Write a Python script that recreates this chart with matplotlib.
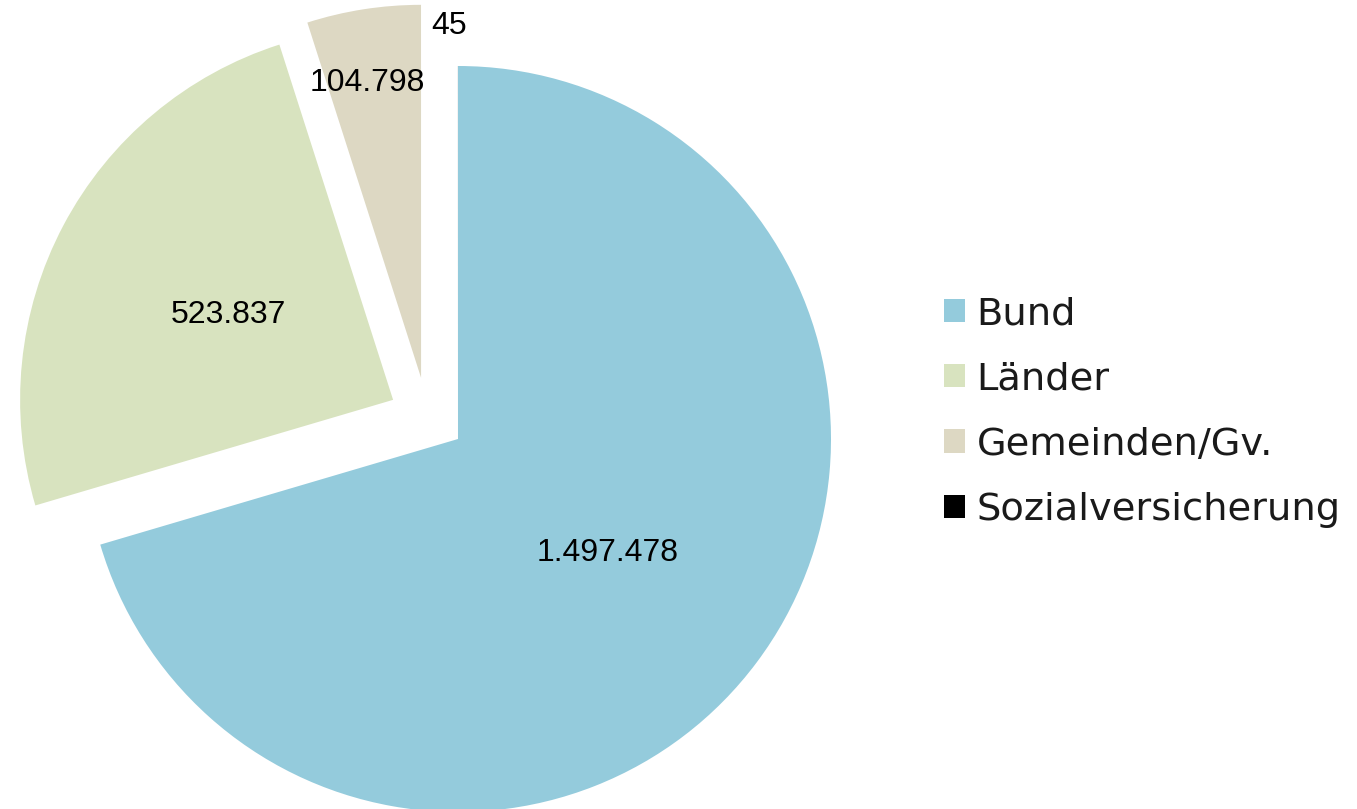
import matplotlib.pyplot as plt
import numpy as np

labels = ['Bund', 'Länder', 'Gemeinden/Gv.', 'Sozialversicherung']
values = [1497478, 523837, 104798, 45]
colors = ['#94cbdc', '#d8e3bf', '#ddd8c3', '#000000']
# wedge offsets (radius units) and label distance from wedge centre
shifts = [(0, 0), (-0.174, 0.105), (-0.099, 0.164), (0, 0)]
label_dist = [0.5, 0.5, 0.81, 1.115]
label_turn = [0, 0, 1.3, 1.2]  # small angular nudge of the labels, degrees

W, H = 1357, 809
R = 373  # pie radius in px
cx, cy = 458, 439  # pie centre in px (from top left)

fig = plt.figure(figsize=(W / 100, H / 100), dpi=100)
ax = fig.add_axes([0, 0, 1, 1])
wedges, _ = ax.pie(values, colors=colors, startangle=90, counterclock=False,
                   radius=1, wedgeprops=dict(linewidth=0))
for w, (dx, dy) in zip(wedges, shifts):
    w.set_center((dx, dy))

for w, v, d, t in zip(wedges, values, label_dist, label_turn):
    mid = np.deg2rad((w.theta1 + w.theta2) / 2 + t)
    x0, y0 = w.center
    ax.text(x0 + d * np.cos(mid), y0 + d * np.sin(mid) - 0.007,
            f"{v:,}".replace(",", "."), ha='center', va='center',
            fontsize=23, family='Liberation Sans', color='black')

ax.set_xlim(-cx / R, (W - cx) / R)
ax.set_ylim(-(H - cy) / R, cy / R)
ax.set_aspect('auto')
ax.axis('off')

leg = ax.legend(wedges, labels, loc='center left', bbox_to_anchor=(944 / W, 1 - 412 / H),
                bbox_transform=fig.transFigure, frameon=False, borderpad=0,
                borderaxespad=0, handlelength=0.55, handleheight=0.55,
                handletextpad=0.3, labelspacing=0.76, labelcolor='#1a1a1a',
                prop=dict(family='DejaVu Sans', size=27.6))

fig.savefig('out.png', dpi=100)
